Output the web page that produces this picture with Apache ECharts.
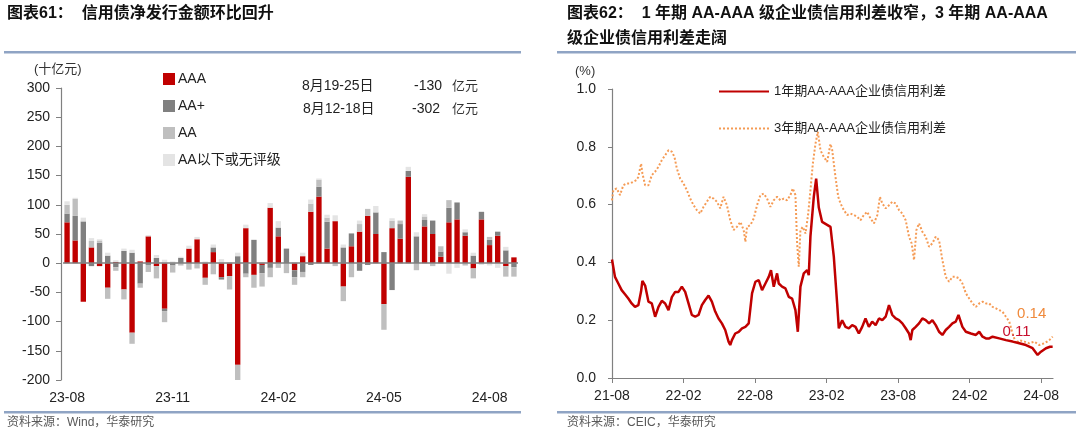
<!DOCTYPE html>
<html><head><meta charset="utf-8">
<script src="https://cdn.jsdelivr.net/npm/echarts@6/dist/echarts.min.js"></script>
<style>html,body{margin:0;padding:0;background:#fff}#c{width:1080px;height:436px}</style>
</head><body><div id="c"></div>
<script>
// ---------- Left chart: weekly net issuance by rating (unit: 十亿元) ----------
const weeks = ['2023-08-06','2023-08-13','2023-08-20','2023-08-27','2023-09-03','2023-09-10','2023-09-17','2023-09-24',
  '2023-10-01','2023-10-08','2023-10-15','2023-10-22','2023-10-29','2023-11-05','2023-11-12','2023-11-19','2023-11-26',
  '2023-12-03','2023-12-10','2023-12-17','2023-12-24','2023-12-31','2024-01-07','2024-01-14','2024-01-21','2024-01-28',
  '2024-02-04','2024-02-11','2024-02-18','2024-02-25','2024-03-03','2024-03-10','2024-03-17','2024-03-24','2024-03-31',
  '2024-04-07','2024-04-14','2024-04-21','2024-04-28','2024-05-05','2024-05-12','2024-05-19','2024-05-26','2024-06-02',
  '2024-06-09','2024-06-16','2024-06-23','2024-06-30','2024-07-07','2024-07-14','2024-07-21','2024-07-28','2024-08-04',
  '2024-08-11','2024-08-18','2024-08-25'];
const aaa = [70,39,-66,27,-5,-42,2,-45,-119,3,46,-5,-78,0,0,25,41,-25,19,-24,-22,-174,60,-20,-3,95,46,0,-12,12,88,114,25,72,-40,29,54,81,50,-70,60,42,148,0,63,50,11,70,75,47,-9,75,31,47,-5,10];
const aaPlus = [15,42,71,-5,35,13,-7,21,18,-35,-3,9,-4,-4,9,0,0,0,8,-4,0,12,-18,40,-14,-8,15,25,-12,-15,-3,17,46,0,27,22,-13,-3,37,19,-46,25,10,46,11,23,9,25,29,6,13,13,9,7,22,-7];
const aa = [15,29,2,11,4,-19,-6,-17,-19,-7,-12,-21,-19,-12,-4,-11,-9,-12,-19,0,-23,-27,-6,-22,-23,-16,-8,-17,-13,-9,14,12,7,-5,-25,-24,13,12,0,-44,13,6,0,-12,6,-5,9,13,0,-4,-17,0,5,0,-18,-16];
const belowAA = [6,2,5,5,2,5,3,4,5,0,2,5,6,3,2,5,4,3,5,7,2,6,6,0,2,8,11,0,2,6,7,2,5,10,5,0,6,0,11,0,4,0,7,7,4,0,0,-18,-8,5,5,-3,-4,-8,6,0];
const barNames = ['AAA','AA+','AA','AA以下或无评级'];
const yTicksLeft = {min:-200, max:300, step:50};

// ---------- Right chart: credit spreads (%), x = months since 2021-08 ----------
const spread1y = [[0,0.41],[0.25,0.35],[0.53,0.327],[0.81,0.304],[1.09,0.29],[1.37,0.275],[1.65,0.258],[1.93,0.246],[2.21,0.252],[2.44,0.30],[2.55,0.336],[2.78,0.32],[3.06,0.264],[3.34,0.258],[3.62,0.212],[3.90,0.246],[4.18,0.267],[4.46,0.258],[4.74,0.235],[5.02,0.28],[5.30,0.298],[5.58,0.298],[5.86,0.316],[6.14,0.298],[6.42,0.258],[6.70,0.218],[6.98,0.212],[7.26,0.218],[7.54,0.252],[7.82,0.27],[8.10,0.285],[8.38,0.264],[8.66,0.23],[8.94,0.206],[9.22,0.189],[9.50,0.166],[9.78,0.126],[9.92,0.114],[10.06,0.131],[10.34,0.154],[10.63,0.16],[10.91,0.172],[11.19,0.177],[11.47,0.189],[11.75,0.293],[12.03,0.333],[12.31,0.339],[12.59,0.304],[12.87,0.327],[13.15,0.35],[13.34,0.373],[13.57,0.316],[13.85,0.362],[13.99,0.327],[14.27,0.316],[14.55,0.31],[14.83,0.281],[15.11,0.275],[15.39,0.235],[15.59,0.16],[15.81,0.316],[16.09,0.362],[16.37,0.373],[16.51,0.356],[16.65,0.49],[16.93,0.627],[17.13,0.69],[17.35,0.59],[17.63,0.54],[18.05,0.53],[18.33,0.523],[18.61,0.42],[18.89,0.258],[19.03,0.172],[19.31,0.2],[19.59,0.177],[19.87,0.172],[20.15,0.183],[20.43,0.177],[20.71,0.154],[20.99,0.177],[21.27,0.206],[21.55,0.177],[21.83,0.195],[22.12,0.183],[22.40,0.206],[22.68,0.2],[22.96,0.212],[23.24,0.252],[23.52,0.218],[23.80,0.206],[24.08,0.2],[24.36,0.189],[24.64,0.172],[24.92,0.154],[25.06,0.131],[25.20,0.166],[25.48,0.177],[25.76,0.189],[26.04,0.206],[26.32,0.2],[26.60,0.189],[26.88,0.2],[27.16,0.183],[27.44,0.16],[27.72,0.149],[28.00,0.166],[28.28,0.177],[28.56,0.189],[28.84,0.195],[29.07,0.218],[29.40,0.177],[29.69,0.16],[30.11,0.154],[30.53,0.149],[30.81,0.16],[31.09,0.143],[31.37,0.137],[31.65,0.137],[31.93,0.143],[32.49,0.137],[33.05,0.131],[33.61,0.126],[34.17,0.12],[34.73,0.114],[35.29,0.103],[35.71,0.08],[35.99,0.091],[36.41,0.103],[36.75,0.108],[36.97,0.108]];
const spread3y = [[0,0.615],[0.11,0.65],[0.39,0.656],[0.67,0.633],[0.95,0.667],[1.23,0.673],[1.51,0.673],[1.79,0.679],[2.07,0.685],[2.21,0.696],[2.44,0.742],[2.55,0.708],[2.78,0.667],[3.06,0.667],[3.34,0.702],[3.62,0.714],[3.90,0.731],[4.18,0.754],[4.46,0.771],[4.74,0.788],[5.02,0.783],[5.24,0.765],[5.44,0.725],[5.72,0.69],[6.00,0.673],[6.28,0.65],[6.56,0.621],[6.84,0.598],[7.12,0.581],[7.40,0.569],[7.68,0.592],[7.96,0.61],[8.24,0.627],[8.52,0.621],[8.80,0.61],[9.08,0.587],[9.36,0.627],[9.64,0.598],[9.92,0.546],[10.20,0.512],[10.48,0.523],[10.77,0.54],[11.05,0.512],[11.19,0.471],[11.33,0.523],[11.61,0.529],[11.89,0.552],[12.17,0.598],[12.45,0.633],[12.73,0.638],[13.01,0.621],[13.29,0.592],[13.57,0.615],[13.85,0.627],[14.13,0.615],[14.41,0.621],[14.69,0.615],[14.97,0.633],[15.17,0.656],[15.39,0.633],[15.53,0.466],[15.67,0.385],[15.81,0.512],[16.01,0.523],[16.23,0.5],[16.45,0.564],[16.65,0.65],[16.85,0.742],[17.07,0.81],[17.27,0.852],[17.49,0.788],[17.77,0.765],[18.05,0.748],[18.33,0.81],[18.47,0.79],[18.61,0.742],[18.75,0.696],[18.98,0.627],[19.17,0.604],[19.45,0.581],[19.73,0.564],[20.01,0.569],[20.29,0.564],[20.57,0.558],[20.85,0.546],[21.13,0.564],[21.41,0.575],[21.69,0.552],[21.98,0.535],[22.26,0.564],[22.48,0.627],[22.68,0.604],[22.96,0.587],[23.24,0.598],[23.52,0.61],[23.80,0.604],[24.08,0.581],[24.36,0.569],[24.64,0.546],[24.92,0.489],[25.14,0.466],[25.34,0.408],[25.54,0.512],[25.76,0.535],[26.04,0.506],[26.32,0.489],[26.60,0.454],[26.88,0.466],[27.16,0.489],[27.44,0.477],[27.72,0.408],[28.00,0.35],[28.28,0.333],[28.56,0.35],[28.84,0.35],[29.12,0.345],[29.40,0.327],[29.69,0.293],[29.97,0.275],[30.25,0.258],[30.53,0.246],[30.81,0.258],[31.09,0.264],[31.37,0.258],[31.65,0.258],[31.93,0.246],[32.21,0.241],[32.49,0.235],[32.77,0.229],[33.05,0.212],[33.33,0.195],[33.61,0.154],[33.89,0.12],[34.17,0.131],[34.59,0.126],[35.01,0.12],[35.43,0.126],[35.85,0.114],[36.27,0.12],[36.69,0.131],[36.97,0.143]];
const lineNames = ['1年期AA-AAA企业债信用利差','3年期AA-AAA企业债信用利差'];
const monthTicks = [0,6,12,18,24,30,36];

// ---------- styling ----------
const NUM = "'Liberation Sans', Arial, 'Noto Sans CJK SC', sans-serif";
const CJK = "'Liberation Sans', 'Noto Sans CJK SC', sans-serif";
const RULE = '#8FA4C4';
const colors = ['#C00000','#808080','#BFBFBF','#E4E4E4'];
const TITLE_FONT = "bold 16px 'Liberation Sans','Noto Sans CJK SC'";

function monthLabel(m){
  const idx = 7 + Math.round(m);
  const y = 21 + Math.floor(idx/12);
  const mo = idx % 12 + 1;
  return y + '-' + (mo < 10 ? '0' + mo : mo);
}

const chart = echarts.init(document.getElementById('c'), null, {renderer:'canvas'});

const barSeries = [aaa, aaPlus, aa, belowAA].map((d, i) => ({
  name: barNames[i], type: 'bar', stack: 'net', xAxisIndex: 0, yAxisIndex: 0,
  data: d, barCategoryGap: '34%', itemStyle: {color: colors[i]},
  markLine: i === 0 ? {silent: true, symbol: ['none','none'], label: {show:false}, z: 10,
    lineStyle: {color:'#7F7F7F', width:1.5, type:'solid'}, data: [{yAxis: 0}]} : undefined
}));

function endMark(points, color, offset){
  const last = points[points.length-1];
  return {silent: true, symbol: 'circle', symbolSize: 1, itemStyle: {color:'rgba(0,0,0,0)'},
    label: {show:true, position:'inside', offset, formatter: last[1].toFixed(2), color, fontSize: 15, fontFamily: NUM},
    data: [{coord: last}]};
}

const option = {
  animation: false,
  backgroundColor: '#fff',
  textStyle: {fontFamily: NUM},
  grid: [
    {left: 63, top: 88, width: 455, height: 292},
    {left: 612, top: 89, width: 441, height: 289}
  ],
  xAxis: [
    {type:'category', gridIndex:0, data: weeks,
      axisLine:{show:false}, axisTick:{show:false},
      axisLabel:{interval:12, margin:11, color:'#222', fontSize:14, fontFamily:NUM,
        formatter: v => v.slice(2,7)}},
    {type:'value', gridIndex:1, min:0, max:37, interval:6,
      axisLine:{show:true, lineStyle:{color:'#808080', width:1.2}},
      axisTick:{show:true, length:5, customValues: monthTicks, lineStyle:{color:'#808080'}},
      axisLabel:{customValues: monthTicks, margin:11, color:'#222', fontSize:14, fontFamily:NUM, formatter: v => monthLabel(v)},
      splitLine:{show:false}}
  ],
  yAxis: [
    {type:'value', gridIndex:0, min:yTicksLeft.min, max:yTicksLeft.max, interval:yTicksLeft.step, offset:2,
      axisLine:{show:true, lineStyle:{color:'#808080', width:1.2}},
      axisTick:{show:true, length:5, lineStyle:{color:'#808080'}},
      axisLabel:{margin:11, color:'#222', fontSize:14, fontFamily:NUM},
      splitLine:{show:false}},
    {type:'value', gridIndex:1, min:0, max:1, interval:0.2,
      axisLine:{show:true, lineStyle:{color:'#808080', width:1.2}},
      axisTick:{show:true, length:4, lineStyle:{color:'#808080'}},
      axisLabel:{margin:16, color:'#222', fontSize:14, fontFamily:NUM, formatter: v => v.toFixed(1)},
      splitLine:{show:false}}
  ],
  legend: [
    {data: barNames, orient:'vertical', left:158, top:67, itemGap:13, itemWidth:12, itemHeight:12,
      icon:'rect', textStyle:{fontSize:14, color:'#222', fontFamily:CJK, padding:[0,0,0,-2]}},
    {data: lineNames, orient:'vertical', left:713, top:80, itemGap:24, itemWidth:50, itemHeight:14,
      itemStyle:{color:'rgba(0,0,0,0)', borderColor:'rgba(0,0,0,0)', borderWidth:0},
      textStyle:{fontSize:13, color:'#222', fontFamily:CJK}}
  ],
  series: barSeries.concat([
    {name: lineNames[1], type:'line', xAxisIndex:1, yAxisIndex:1, data: spread3y, showSymbol:false, symbol:'none',
      lineStyle:{color:'#F59B55', width:2, type:[2,2]}, itemStyle:{color:'#F59B55'}, z:2,
      markPoint: endMark(spread3y, '#F08A3C', [-21, -23])},
    {name: lineNames[0], type:'line', xAxisIndex:1, yAxisIndex:1, data: spread1y, showSymbol:false, symbol:'none',
      lineStyle:{color:'#C00000', width:2.5}, itemStyle:{color:'#C00000'}, z:3,
      markPoint: endMark(spread1y, '#C8102E', [-36, -15])}
  ]),
  graphic: [
    {type:'text', left:7, top:6, style:{text:'图表61：  信用债净发行金额环比回升', font:TITLE_FONT, fill:'#111'}},
    {type:'text', left:567, top:6, style:{text:'图表62：  1 年期 AA-AAA 级企业债信用利差收窄，3 年期 AA-AAA', font:TITLE_FONT, fill:'#111'}},
    {type:'text', left:567, top:31, style:{text:'级企业债信用利差走阔', font:TITLE_FONT, fill:'#111'}},
    {type:'rect', shape:{x:4, y:51, width:517, height:2.5}, style:{fill:RULE}},
    {type:'rect', shape:{x:557, y:51, width:519, height:2.5}, style:{fill:RULE}},
    {type:'rect', shape:{x:4, y:411, width:517, height:2.5}, style:{fill:RULE}},
    {type:'rect', shape:{x:557, y:411, width:519, height:2.5}, style:{fill:RULE}},
    {type:'text', left:7, top:417, style:{text:'资料来源：Wind，华泰研究', font:"12px 'Liberation Sans','Noto Sans CJK SC'", fill:'#595959'}},
    {type:'text', left:567, top:417, style:{text:'资料来源：CEIC，华泰研究', font:"12px 'Liberation Sans','Noto Sans CJK SC'", fill:'#595959'}},
    {type:'text', left:34, top:63, style:{text:'(十亿元)', font:"13px 'Liberation Sans','Noto Sans CJK SC'", fill:'#333'}},
    {type:'text', left:575, top:65, style:{text:'(%)', font:"13px 'Liberation Sans','Noto Sans CJK SC'", fill:'#333'}},
    {type:'text', left:302, top:79, style:{text:'8月19-25日', font:"14px 'Liberation Sans','Noto Sans CJK SC'", fill:'#222'}},
    {type:'text', left:414, top:79, style:{text:'-130', font:"14px 'Liberation Sans'", fill:'#222'}},
    {type:'text', left:452, top:79, style:{text:'亿元', font:"13px 'Noto Sans CJK SC'", fill:'#333'}},
    {type:'text', left:303, top:102, style:{text:'8月12-18日', font:"14px 'Liberation Sans','Noto Sans CJK SC'", fill:'#222'}},
    {type:'text', left:412, top:102, style:{text:'-302', font:"14px 'Liberation Sans'", fill:'#222'}},
    {type:'text', left:452, top:102, style:{text:'亿元', font:"13px 'Noto Sans CJK SC'", fill:'#333'}}
  ]
};
chart.setOption(option);
</script></body></html>
